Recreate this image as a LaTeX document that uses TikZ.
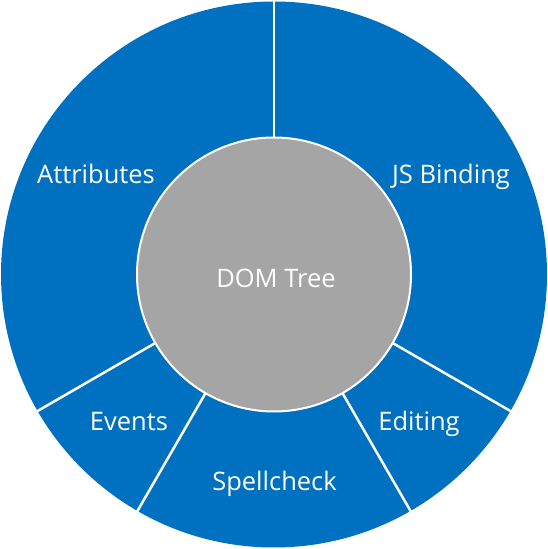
\documentclass[tikz,border=0pt]{standalone}
\usepackage{fontspec}
\setmainfont{Open Sans}
\definecolor{segblue}{RGB}{0,112,192}
\definecolor{hubgrey}{RGB}{165,165,165}
\tikzset{
  lbl/.style={text=white, font=\fontsize{25.5}{30}\selectfont, anchor=base, inner sep=0pt},
  sep/.style={draw=white, line width=2.5pt},
}
\begin{document}
\begin{tikzpicture}[x=1pt,y=1pt]
\useasboundingbox (0,0) rectangle (548,549);
\coordinate (c) at (274,274.5);
\fill[segblue] (c) circle (273);
\draw[sep] (c) -- ++(90:275);
\draw[sep] (c) -- ++(-30:275);
\draw[sep] (c) -- ++(-60:275);
\draw[sep] (c) -- ++(-120:275);
\draw[sep] (c) -- ++(-150:275);
\node[circle, fill=hubgrey, draw=white, line width=2pt, minimum size=274pt, inner sep=0pt] (hub) at (c) {};
\node[lbl] (dom) at (276,261) {DOM Tree};
\node[lbl] (attr) at (96,365) {Attributes};
\node[lbl] (js) at (451,365) {JS Binding};
\node[lbl] (events) at (129,118) {Events};
\node[lbl] (editing) at (419,118) {Editing};
\node[lbl] (spell) at (274.5,58.5) {Spellcheck};
\end{tikzpicture}
\end{document}
